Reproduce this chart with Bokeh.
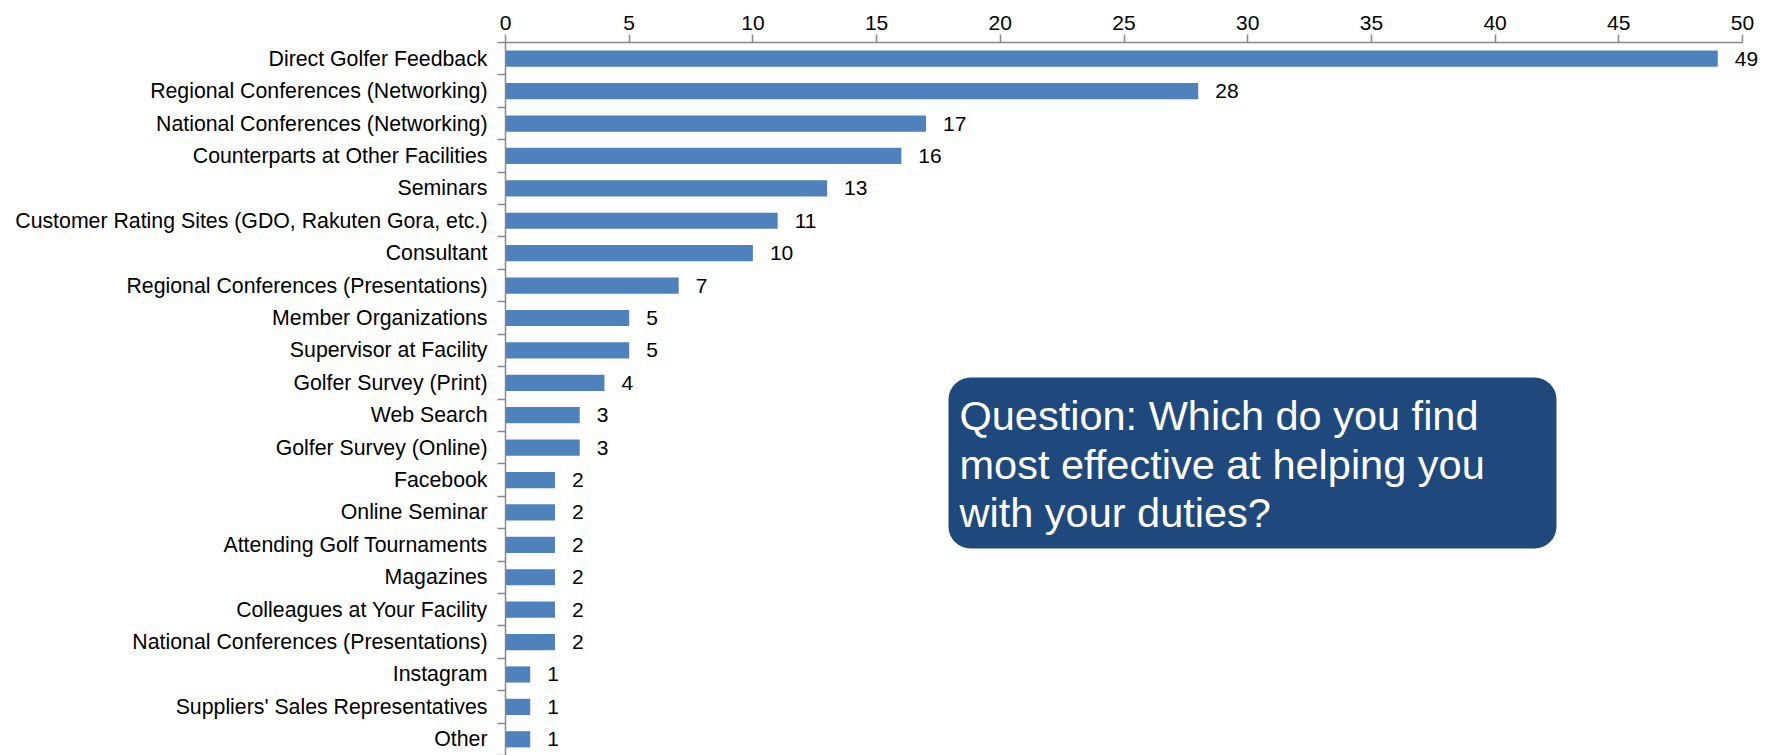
from bokeh.plotting import figure
from bokeh.models import Range1d, FixedTicker, BoxAnnotation, LabelSet, ColumnDataSource
from bokeh.core.properties import value
from bokeh.embed import file_html
from bokeh.resources import INLINE

categories = [
    "Direct Golfer Feedback",
    "Regional Conferences (Networking)",
    "National Conferences (Networking)",
    "Counterparts at Other Facilities",
    "Seminars",
    "Customer Rating Sites (GDO, Rakuten Gora, etc.)",
    "Consultant",
    "Regional Conferences (Presentations)",
    "Member Organizations",
    "Supervisor at Facility",
    "Golfer Survey (Print)",
    "Web Search",
    "Golfer Survey (Online)",
    "Facebook",
    "Online Seminar",
    "Attending Golf Tournaments",
    "Magazines",
    "Colleagues at Your Facility",
    "National Conferences (Presentations)",
    "Instagram",
    "Suppliers' Sales Representatives",
    "Other",
]
counts = [49, 28, 17, 16, 13, 11, 10, 7, 5, 5, 4, 3, 3, 2, 2, 2, 2, 2, 2, 1, 1, 1]
x_ticks = [0, 5, 10, 15, 20, 25, 30, 35, 40, 45, 50]
question_lines = [
    "Question: Which do you find",
    "most effective at helping you",
    "with your duties?",
]

FONT = "Liberation Sans"
AXIS_GRAY = "#898989"
BAR_BLUE = "#4F81BD"
BOX_BLUE = "#1F497D"

n = len(categories)
pos = list(range(n))
src = ColumnDataSource(dict(pos=pos, count=counts, cat=categories,
                            label=[str(c) for c in counts]))

X_MAX = x_ticks[-1]
W, H = 1771, 755
AXIS_L, AXIS_R, FRAME_T, FRAME_B = 505, 1742, 42, 755
# frame runs to the right edge so the value labels are not clipped;
# the axis itself is bounded to 0..50
X_END = X_MAX * (W - AXIS_L) / (AXIS_R - AXIS_L)

p = figure(width=W, height=H,
           x_range=Range1d(0, X_END), y_range=Range1d(n - 0.5, -0.5),
           x_axis_location="above", y_axis_location="left",
           output_backend="svg", toolbar_location=None,
           min_border_left=AXIS_L, min_border_right=0,
           min_border_top=FRAME_T, min_border_bottom=H - FRAME_B)
p.outline_line_color = None
p.xgrid.visible = False
p.ygrid.visible = False
p.background_fill_color = "white"
p.border_fill_color = "white"

p.hbar(y="pos", left=0, right="count", height=0.5, source=src,
       fill_color=BAR_BLUE, line_color=None)
p.add_layout(LabelSet(x="count", y="pos", text="label", source=src, x_offset=17,
                      text_align="left", text_baseline="middle",
                      text_font=value(FONT), text_font_size="21px",
                      text_color="black"))

# top axis
xa = p.xaxis[0]
xa.bounds = (x_ticks[0], X_MAX)
xa.ticker = FixedTicker(ticks=x_ticks)
xa.axis_line_color = AXIS_GRAY
xa.axis_line_width = 1.5
xa.major_tick_line_color = AXIS_GRAY
xa.major_tick_line_width = 1.5
xa.major_tick_in = 0
xa.major_tick_out = 8
xa.minor_tick_line_color = None
xa.major_label_standoff = 5
xa.major_label_text_font = FONT
xa.major_label_text_font_size = "21px"
xa.major_label_text_color = "black"

# left category axis: labels at centres, ticks at boundaries
ya = p.yaxis[0]
ya.ticker = FixedTicker(ticks=pos, minor_ticks=[i - 0.5 for i in range(n + 1)])
ya.major_label_overrides = {i: c for i, c in zip(pos, categories)}
ya.axis_line_color = AXIS_GRAY
ya.axis_line_width = 1.5
ya.major_tick_line_color = None
ya.major_tick_in = 0
ya.major_tick_out = 0
ya.minor_tick_line_color = AXIS_GRAY
ya.minor_tick_line_width = 1.5
ya.minor_tick_in = 0
ya.minor_tick_out = 8
ya.major_label_standoff = 10
ya.major_label_text_font = FONT
ya.major_label_text_font_size = "21.3px"
ya.major_label_text_color = "black"

# question box (placed in screen pixels, converted to data coordinates)
def sx(px):
    return (px - AXIS_L) / (AXIS_R - AXIS_L) * X_MAX
def sy(py):
    return (py - FRAME_T) / (FRAME_B - FRAME_T) * n - 0.5

box = BoxAnnotation(left=sx(948), right=sx(1556), top=sy(377), bottom=sy(548),
                    fill_color=BOX_BLUE, fill_alpha=1.0, line_color=None,
                    border_radius=22)
p.add_layout(box)
qsrc = ColumnDataSource(dict(
    x=[sx(959)] * len(question_lines),
    y=[sy(415 + 48.7 * i) for i in range(len(question_lines))],
    t=question_lines))
p.text(x="x", y="y", text="t", source=qsrc, text_color="white",
       text_font=value(FONT), text_font_size="41.5px",
       text_baseline="middle", text_align="left", level="overlay")

open("out.html", "w").write(file_html(p, INLINE))
